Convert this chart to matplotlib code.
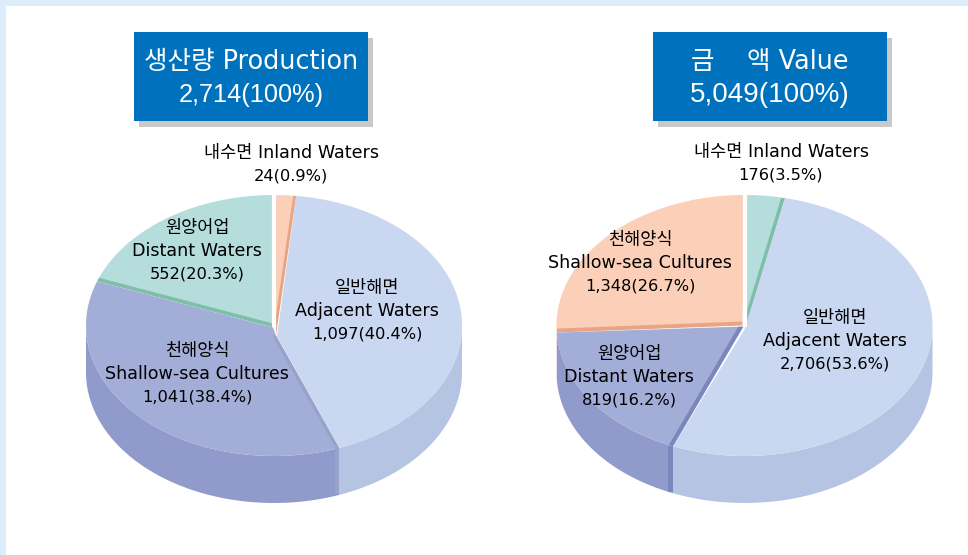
import numpy as np
import matplotlib
matplotlib.use('Agg')
import matplotlib.pyplot as plt
from matplotlib.patches import Polygon, Rectangle

plt.rcParams['font.family'] = ['DejaVu Sans', 'Noto Sans CJK KR']

# 항목 이름과 표기 값
prod_title = ['생산량 Production', '2,714(100%)']
prod_names = ['내수면 Inland Waters', '일반해면\nAdjacent Waters', '천해양식\nShallow-sea Cultures', '원양어업\nDistant Waters']
prod_values = ['24(0.9%)', '1,097(40.4%)', '1,041(38.4%)', '552(20.3%)']
# arc shares as drawn in the picture, they differ a bit from the printed figures
prod_shares = [2.7, 39.5, 36.7, 21.1]

value_title = ['금    액 Value', '5,049(100%)']
value_names = ['내수면 Inland Waters', '일반해면\nAdjacent Waters', '원양어업\nDistant Waters', '천해양식\nShallow-sea Cultures']
value_values = ['176(3.5%)', '2,706(53.6%)', '819(16.2%)', '1,348(26.7%)']
value_shares = [4.9, 53.6, 15.9, 25.6]

GREEN = ('#B5DDDB', '#B5DDDB', '#7FBFAA')
PEACH = ('#FBCFB8', '#FBCFB8', '#E8A585')
BLUE = ('#C9D7F0', '#B5C4E3', None)
PURPLE = ('#A3AED8', '#919BCB', '#98A3C9')
PURPLE2 = ('#A3AED8', '#919BCB', '#7B86BD')

A, B, DEPTH, CY = 188, 130.5, 47, 325.5


def ellipse_point(cx, deg):
    """clockwise from the top, angle as seen on the flattened pie"""
    t = np.radians(deg)
    r = 1 / np.sqrt((np.sin(t) / A) ** 2 + (np.cos(t) / B) ** 2)
    return cx + r * np.sin(t), CY - r * np.cos(t)


def arc(cx, a0, a1):
    degs = np.linspace(a0, a1, 120)
    return [ellipse_point(cx, d) for d in degs]


def draw_pie(ax, cx, shares, colors, apexes, strips, order, corners):
    edges = np.concatenate([[0], np.cumsum(shares)]) * 3.6

    # side walls
    for i in range(len(shares)):
        a0, a1 = max(edges[i], 90), min(edges[i + 1], 270)
        if a0 >= a1:
            continue
        top = arc(cx, a0, a1)
        low = [(x, y + DEPTH) for x, y in top][::-1]
        ax.add_patch(Polygon(top + low, closed=True, fc=colors[i][1], ec='none', zorder=2))

    # faces, painted from the last slice back to the first
    z = 3
    for i in order:
        apex = (cx + apexes[i][0], CY + apexes[i][1])
        pts = [apex] + arc(cx, edges[i], edges[i + 1])
        if corners[i] is not None:
            pts.append((cx + corners[i][0], CY + corners[i][1]))
        face = Polygon(pts, closed=True, fc=colors[i][0], ec='none', zorder=z)
        ax.add_patch(face)
        if strips[i] is not None:
            side, dx, dy = strips[i]
            deg = edges[i] if side == 'start' else edges[i + 1]
            x, y = ellipse_point(cx, deg)
            s = Polygon([apex, (x, y), (x + dx, y + dy), (apex[0] + dx, apex[1] + dy)], closed=True,
                        fc=colors[i][2], ec='none', zorder=z + 0.5)
            ax.add_patch(s)
            s.set_clip_path(face)
            if dx != 0 and 90 < deg < 270:
                ax.add_patch(Rectangle((x + dx, y), -dx, DEPTH - 1, fc=colors[i][2], ec='none', zorder=2.5))
        z += 1

    # white cut at 12 o'clock
    ax.plot([cx, cx], [CY - B - 2, CY + 1], color='white', lw=3, solid_capstyle='butt', zorder=z)


def draw_title(ax, x, lines, num_size):
    ax.add_patch(Rectangle((x + 5, 38), 234, 89, fc='#C9C9C9', ec='none', zorder=1))
    ax.add_patch(Rectangle((x, 32), 234, 89, fc='#0071BC', ec='none', zorder=2))
    ax.text(x + 117, 62, lines[0], color='white', fontsize=18.4, ha='center', va='center', zorder=3)
    ax.text(x + 117, 95, lines[1], color='white', fontsize=num_size, family=['Liberation Sans'],
            ha='center', va='center', zorder=3)


def draw_label(ax, x, y, name, value):
    lines = name.split('\n')
    for k, line in enumerate(lines):
        ax.text(x, y + k * 22.8, line, fontsize=12.6, color='black', ha='center', va='center', zorder=20)
    ax.text(x, y + len(lines) * 22.8, value, fontsize=11.7, color='black', ha='center', va='center', zorder=20)


def main():
    fig = plt.figure(figsize=(9.68, 5.55), dpi=100, facecolor='white')
    ax = fig.add_axes([0, 0, 1, 1])
    ax.set_xlim(0, 968)
    ax.set_ylim(555, 0)
    ax.axis('off')

    # 배경 테두리
    ax.add_patch(Rectangle((0, 0), 968, 6, fc='#DCEEFB', ec='none', zorder=0))
    ax.add_patch(Rectangle((0, 0), 6, 555, fc='#DCEEFB', ec='none', zorder=0))

    draw_title(ax, 134, prod_title, 18.3)
    draw_title(ax, 653, value_title, 20)

    # 생산량
    draw_pie(ax, 274, prod_shares, [PEACH, BLUE, PURPLE, GREEN],
             apexes=[(2, 10), (3, 11), (2, 10), (-1, 2)],
             strips=[('end', -3, 0), None, ('start', -4, 0), ('start', 0, -4)],
             order=[2, 3, 0, 1],
             corners=[None, None, (-1, 2), None])
    draw_label(ax, 291, 153, prod_names[0], prod_values[0])
    draw_label(ax, 367, 288, prod_names[1], prod_values[1])
    draw_label(ax, 197, 351, prod_names[2], prod_values[2])
    draw_label(ax, 197, 228, prod_names[3], prod_values[3])

    # 금액
    draw_pie(ax, 744.5, value_shares, [GREEN, BLUE, PURPLE2, PEACH],
             apexes=[(1, 3), (0, 4), (-1, 1), (-2, 0)],
             strips=[('end', -4, 0), None, ('start', -5, 0), ('start', 0, -4)],
             order=[3, 2, 0, 1],
             corners=[None, None, None, None])
    draw_label(ax, 781, 152, value_names[0], value_values[0])
    draw_label(ax, 835, 318, value_names[1], value_values[1])
    draw_label(ax, 629, 354, value_names[2], value_values[2])
    draw_label(ax, 640, 240, value_names[3], value_values[3])

    fig.savefig('out.png', dpi=100, facecolor='white')


if __name__ == "__main__":
    main()
